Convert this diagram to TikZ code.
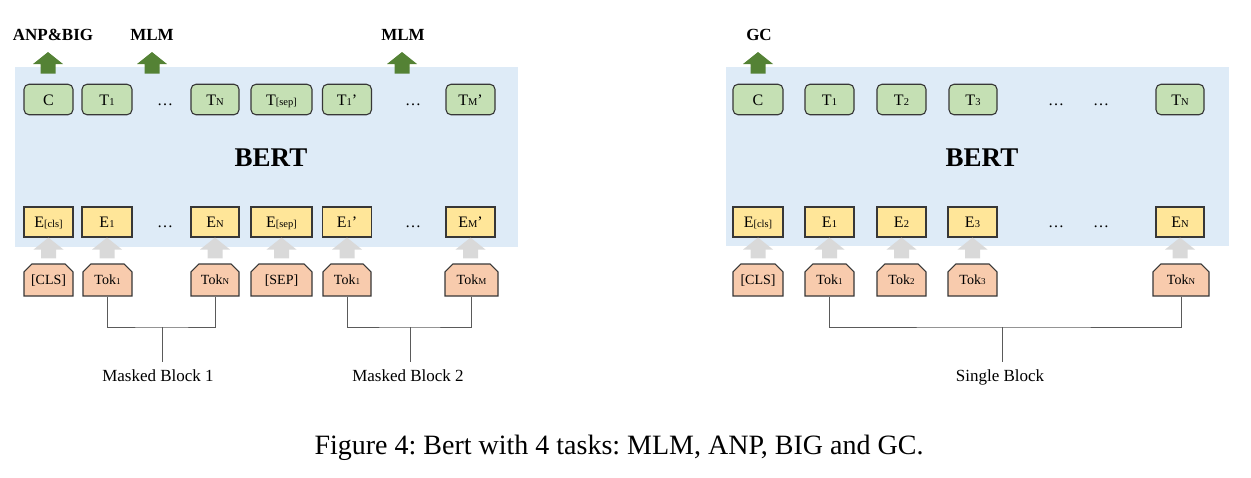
\documentclass[tikz,border=0pt]{standalone}
\usepackage{fontspec}
\setmainfont{Liberation Serif}
\usetikzlibrary{shapes.misc,calc}
\frenchspacing

\definecolor{bertblue}{RGB}{222,235,247}
\definecolor{outgreen}{RGB}{197,224,180}
\definecolor{embyellow}{RGB}{255,230,153}
\definecolor{tokorange}{RGB}{248,203,173}
\definecolor{taskgreen}{RGB}{84,130,53}
\definecolor{upgray}{RGB}{217,217,217}
\definecolor{boxline}{RGB}{55,55,55}
\definecolor{brace}{RGB}{90,90,90}

\newcommand{\idx}[1]{{\fontsize{10.5}{10.5}\selectfont #1}}
\newcommand{\tidx}[1]{{\fontsize{9}{9}\selectfont #1}}
\newcommand{\fatup}[4]{\fill[#1] (#3) -- ++(15,12) -- ++(-7.5,0)
  -- ($(#3 |- #2)+(7.5,-#4)$) -- ++(-15,0) -- ($(#3)+(-7.5,12)$) -- ++(-7.5,0) -- cycle;}

\tikzset{
  outbox/.style={draw=boxline, fill=outgreen, rounded corners=5pt, line width=1.1pt,
    minimum width=#1, minimum height=30.5pt, inner sep=0pt, text height=11pt, text depth=0pt,
    font=\fontsize{16}{16}\selectfont},
  embbox/.style={draw=boxline, fill=embyellow, line width=1.1pt,
    minimum width=#1, minimum height=30pt, inner sep=0pt, text height=11pt, text depth=0pt,
    font=\fontsize{16}{16}\selectfont},
  tokbox/.style={chamfered rectangle, chamfered rectangle corners={north west,north east},
    chamfered rectangle xsep=6pt, chamfered rectangle angle=45,
    draw=boxline, fill=tokorange, line width=1.1pt,
    minimum width=#1, minimum height=32pt, inner sep=0pt, text height=9.5pt, text depth=0pt,
    font=\fontsize{14}{14}\selectfont},
  dotsx/.style={text height=11pt, text depth=0pt, font=\fontsize{16}{16}\selectfont},
  task/.style={text height=12pt, text depth=0pt, font=\bfseries\fontsize{17}{17}\selectfont},
  bertname/.style={text height=18pt, text depth=0pt, font=\bfseries\fontsize{27}{27}\selectfont},
  blocklabel/.style={text height=11.5pt, text depth=0pt, inner sep=8pt, font=\fontsize{17}{17}\selectfont},
  panel/.style={fill=bertblue}
}

\begin{document}
\begin{tikzpicture}[x=1pt, y=-1pt]
\useasboundingbox (0,0) rectangle (1251,477);

\fill[panel] (15,67) rectangle (518,247);
\fill[panel] (726,67) rectangle (1229,246);

\draw
(48.5, 99.5) node[outbox=49](c){C}
(107, 99.5) node[outbox=50](t1){T\idx{1}}
(165, 99.5) node[dotsx](dt1){\dots}
(215, 99.5) node[outbox=48](tn){T\idx{N}}
(281.5, 99.5) node[outbox=61](tsep){T\idx{[sep]}}
(347, 99.5) node[outbox=49](t1p){T\idx{1}’}
(413, 99.5) node[dotsx](dt2){\dots}
(470.5, 99.5) node[outbox=49](tmp){T\idx{M}’}

(48.5, 222) node[embbox=49](ecls){E\idx{[cls]}}
(107, 222) node[embbox=50](e1){E\idx{1}}
(165, 222) node[dotsx](de1){\dots}
(215, 222) node[embbox=48](en){E\idx{N}}
(281.5, 222) node[embbox=61](esep){E\idx{[sep]}}
(347, 222) node[embbox=49](e1p){E\idx{1}’}
(413, 222) node[dotsx](de2){\dots}
(470.5, 222) node[embbox=49](emp){E\idx{M}’}

(48.5, 280) node[tokbox=49](cls){[CLS]}
(107.5, 280) node[tokbox=49](tok1){Tok\tidx{1}}
(215, 280) node[tokbox=48](tokn){Tok\tidx{N}}
(281.5, 280) node[tokbox=61](sep){[SEP]}
(347, 280) node[tokbox=48](tok1p){Tok\tidx{1}}
(471.5, 280) node[tokbox=53](tokm){Tok\tidx{M}}

(758, 99.5) node[outbox=50](c2){C}
(829.5, 99.5) node[outbox=49](t21){T\idx{1}}
(901.5, 99.5) node[outbox=49](t22){T\idx{2}}
(973, 99.5) node[outbox=48](t23){T\idx{3}}
(1056, 99.5) node[dotsx](dt3){\dots}
(1101, 99.5) node[dotsx](dt4){\dots}
(1180, 99.5) node[outbox=48](t2n){T\idx{N}}

(758, 222) node[embbox=50](ecls2){E\idx{[cls]}}
(829.5, 222) node[embbox=49](e21){E\idx{1}}
(901.5, 222) node[embbox=49](e22){E\idx{2}}
(972.5, 222) node[embbox=49](e23){E\idx{3}}
(1056, 222) node[dotsx](de3){\dots}
(1101, 222) node[dotsx](de4){\dots}
(1180, 222) node[embbox=48](e2n){E\idx{N}}

(758, 280) node[tokbox=50](cls2){[CLS]}
(829.5, 280) node[tokbox=49](tok21){Tok\tidx{1}}
(901.5, 280) node[tokbox=49](tok22){Tok\tidx{2}}
(972.5, 280) node[tokbox=49](tok23){Tok\tidx{3}}
(1181, 280) node[tokbox=56](tok2n){Tok\tidx{N}}

(271, 157.5) node[bertname](bertl){BERT}
(982, 157.5) node[bertname](bertr){BERT}

(53, 34) node[task](anpbig){ANP\&BIG}
(152, 34) node[task](mlm1){MLM}
(403, 34) node[task](mlm2){MLM}
(759, 34) node[task](gc){GC}

(158, 376) node[blocklabel](mb1){Masked Block 1}
(408, 376) node[blocklabel](mb2){Masked Block 2}
(1000, 376) node[blocklabel](sb){Single Block}

(619, 446) node[text height=17pt, text depth=0pt, font=\fontsize{28}{28}\selectfont](cap){Figure 4: Bert with 4 tasks: MLM, ANP, BIG and GC.};

\coordinate (g1) at (48, 52);
\coordinate (g2) at (152, 52);
\coordinate (g3) at (402, 52);
\coordinate (g4) at (758, 52);
\fatup{taskgreen}{c.north}{g1}{10}
\fatup{taskgreen}{c.north}{g2}{10}
\fatup{taskgreen}{c.north}{g3}{10}
\fatup{taskgreen}{c2.north}{g4}{10}

\foreach \tk/\em in {cls/ecls, tok1/e1, tokn/en, sep/esep, tok1p/e1p, tokm/emp,
  cls2/ecls2, tok21/e21, tok22/e22, tok23/e23, tok2n/e2n}
  {\fatup{upgray}{\tk.north}{\em.south}{5}}

\coordinate (j1) at (162, 327);
\coordinate (j2) at (410, 327);
\coordinate (j3) at (1002, 327);
\draw[brace, line width=1pt] (tok1.south) |- (j1) -| (tokn.south);
\draw[brace, line width=1pt] (j1) -- (j1 |- mb1.north);
\draw[brace, line width=1pt] (tok1p.south) |- (j2) -| (tokm.south);
\draw[brace, line width=1pt] (j2) -- (j2 |- mb2.north);
\draw[brace, line width=1pt] (tok21.south) |- (j3) -| (tok2n.south);
\draw[brace, line width=1pt] (j3) -- (j3 |- sb.north);

\end{tikzpicture}
\end{document}
